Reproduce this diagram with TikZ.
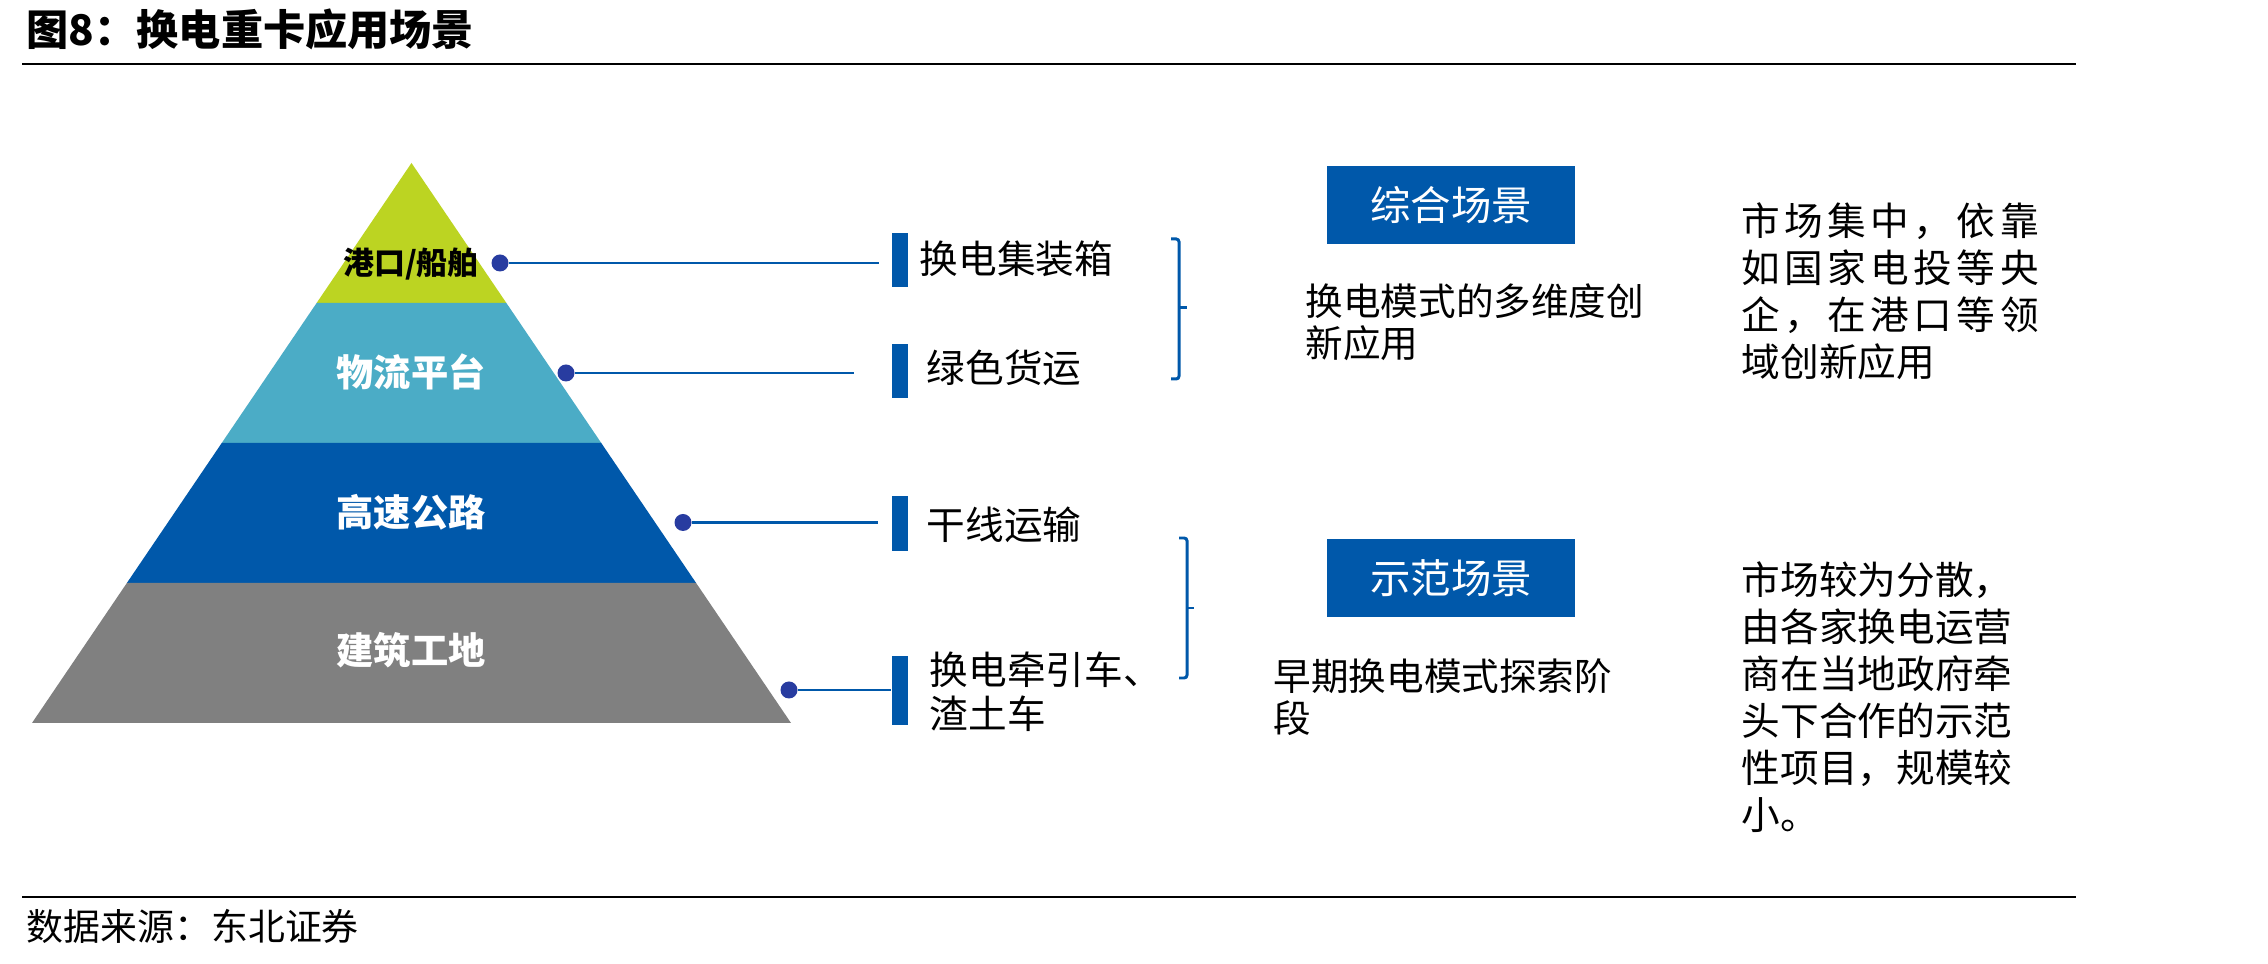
\documentclass[tikz,border=0pt]{standalone}
\usepackage{fontspec}
\setmainfont{Noto Sans CJK SC}
\usepackage{xcolor}
\usepackage{tikz}
\usetikzlibrary{positioning, calc}
\definecolor{mylime}{RGB}{188,212,34}
\definecolor{myteal}{RGB}{75,172,198}
\definecolor{myblue}{RGB}{0,88,170}
\definecolor{mygray}{RGB}{128,128,128}
\definecolor{mynavy}{RGB}{40,60,160}
\def\spreadfirst#1{#1\spreadrest}
\def\spreadrest#1{\ifx#1\relax\else\hfil#1\expandafter\spreadrest\fi}
\newcommand\spreadline[1]{\makebox[2.97cm][s]{\spreadfirst#1\relax}}
\tikzset{
  layerlabel/.style={font=\fontsize{10.6}{12}\selectfont\bfseries, text=white, inner sep=0pt},
  pindot/.style={circle, fill=mynavy, inner sep=0pt, minimum size=0.17cm},
  tagbar/.style={rectangle, fill=myblue, inner sep=0pt, minimum width=0.16cm},
  itemlabel/.style={font=\fontsize{11}{12.5}\selectfont, anchor=west, align=left, inner sep=0pt},
  scenebox/.style={rectangle, fill=myblue, text=white, minimum width=2.48cm,
    minimum height=0.78cm, font=\fontsize{11.5}{13}\selectfont},
  desctext/.style={font=\fontsize{10.7}{11.9}\selectfont, anchor=west, align=left, inner sep=0pt},
  notetext/.style={font=\fontsize{11}{13.4}\selectfont, anchor=west, align=left, inner sep=0pt},
  link/.style={myblue, line width=0.6pt},
  bracketline/.style={myblue, line width=0.85pt, rounded corners=0.8pt},
  rule/.style={black, line width=0.75pt}
}

\begin{document}
\begin{tikzpicture}
  \fill[white] (0,0) rectangle (22.68,9.64);
  \useasboundingbox (0,0) rectangle (22.68,9.64);

  % Title and rules
  \node[anchor=west, inner sep=0pt, font=\fontsize{12}{14}\selectfont\bfseries] (title) at (0.26,9.35) {图8：换电重卡应用场景};
  \draw[rule] (0.22,9.00) -- (20.76,9.00);
  \draw[rule] (0.22,0.67) -- (20.76,0.67);
  \node[anchor=west, inner sep=0pt, font=\fontsize{10.5}{12}\selectfont] (source) at (0.26,0.38) {数据来源：东北证券};

  % Pyramid
  \coordinate (apex) at (4.115,8.01);
  \coordinate (bl) at (0.32,2.41);
  \coordinate (br) at (7.91,2.41);
  \fill[mylime] (apex) -- ($(apex)!0.25!(br)$) -- ($(apex)!0.25!(bl)$) -- cycle;
  \fill[myteal] ($(apex)!0.25!(bl)$) -- ($(apex)!0.25!(br)$) -- ($(apex)!0.5!(br)$) -- ($(apex)!0.5!(bl)$) -- cycle;
  \fill[myblue] ($(apex)!0.5!(bl)$) -- ($(apex)!0.5!(br)$) -- ($(apex)!0.75!(br)$) -- ($(apex)!0.75!(bl)$) -- cycle;
  \fill[mygray] ($(apex)!0.75!(bl)$) -- ($(apex)!0.75!(br)$) -- (br) -- (bl) -- cycle;
  \node[layerlabel, text=black, font=\fontsize{8.8}{10}\selectfont\bfseries] (port) at (4.11,7.00) {港口/船舶};
  \node[layerlabel] (logi) at (4.11,5.92) {物流平台};
  \node[layerlabel] (hway) at (4.11,4.52) {高速公路};
  \node[layerlabel] (site) at (4.11,3.14) {建筑工地};

  % Pins and tags
  \node[pindot] (d1) at (5.00,7.01) {};
  \node[pindot] (d2) at (5.66,5.91) {};
  \node[pindot] (d3) at (6.83,4.415) {};
  \node[pindot] (d4) at (7.89,2.74) {};
  \node[tagbar, minimum height=0.54cm] (b1) at (9.00,7.04) {};
  \node[tagbar, minimum height=0.54cm] (b2) at (9.00,5.93) {};
  \node[tagbar, minimum height=0.55cm] (b3) at (9.00,4.405) {};
  \node[tagbar, minimum height=0.69cm] (b4) at (9.00,2.73) {};
  \draw[link, shorten >=0.12cm] (d1) -- (d1 -| b1.west);
  \draw[link, shorten >=0.37cm] (d2) -- (d2 -| b2.west);
  \draw[link, shorten >=0.13cm] (d3) -- (d3 -| b3.west);
  \draw[link] (d4) -- (d4 -| b4.west);
  \node[itemlabel] (i1) at (9.19,7.05) {换电集装箱};
  \node[itemlabel] (i2) at (9.26,5.96) {绿色货运};
  \node[itemlabel] (i3) at (9.26,4.39) {干线运输};
  \node[itemlabel] (i4) at (9.29,2.72) {换电牵引车、\\渣土车};

  % Brackets
  \draw[bracketline] (11.71,7.25) -- (11.79,7.25) -- (11.79,5.85) -- (11.71,5.85);
  \draw[bracketline] (11.79,6.56) -- (11.87,6.56);
  \draw[bracketline] (11.79,4.26) -- (11.87,4.26) -- (11.87,2.86) -- (11.79,2.86);
  \draw[bracketline] (11.87,3.56) -- (11.94,3.56);

  % Scenes
  \node[scenebox] (comp) at (14.51,7.59) {综合场景};
  \node[scenebox] (demo) at (14.51,3.86) {示范场景};
  \node[desctext] (compdesc) at (13.05,6.42) {换电模式的多维度创\\新应用};
  \node[desctext] (demodesc) at (12.73,2.67) {早期换电模式探索阶\\段};
  \node[notetext] (compnote) at (17.41,6.73) {\spreadline{市场集中，依靠}\\\spreadline{如国家电投等央}\\\spreadline{企，在港口等领}\\域创新应用};
  \node[notetext] (demonote) at (17.41,2.67) {市场较为分散，\\由各家换电运营\\商在当地政府牵\\头下合作的示范\\性项目，规模较\\小。};
\end{tikzpicture}
\end{document}
